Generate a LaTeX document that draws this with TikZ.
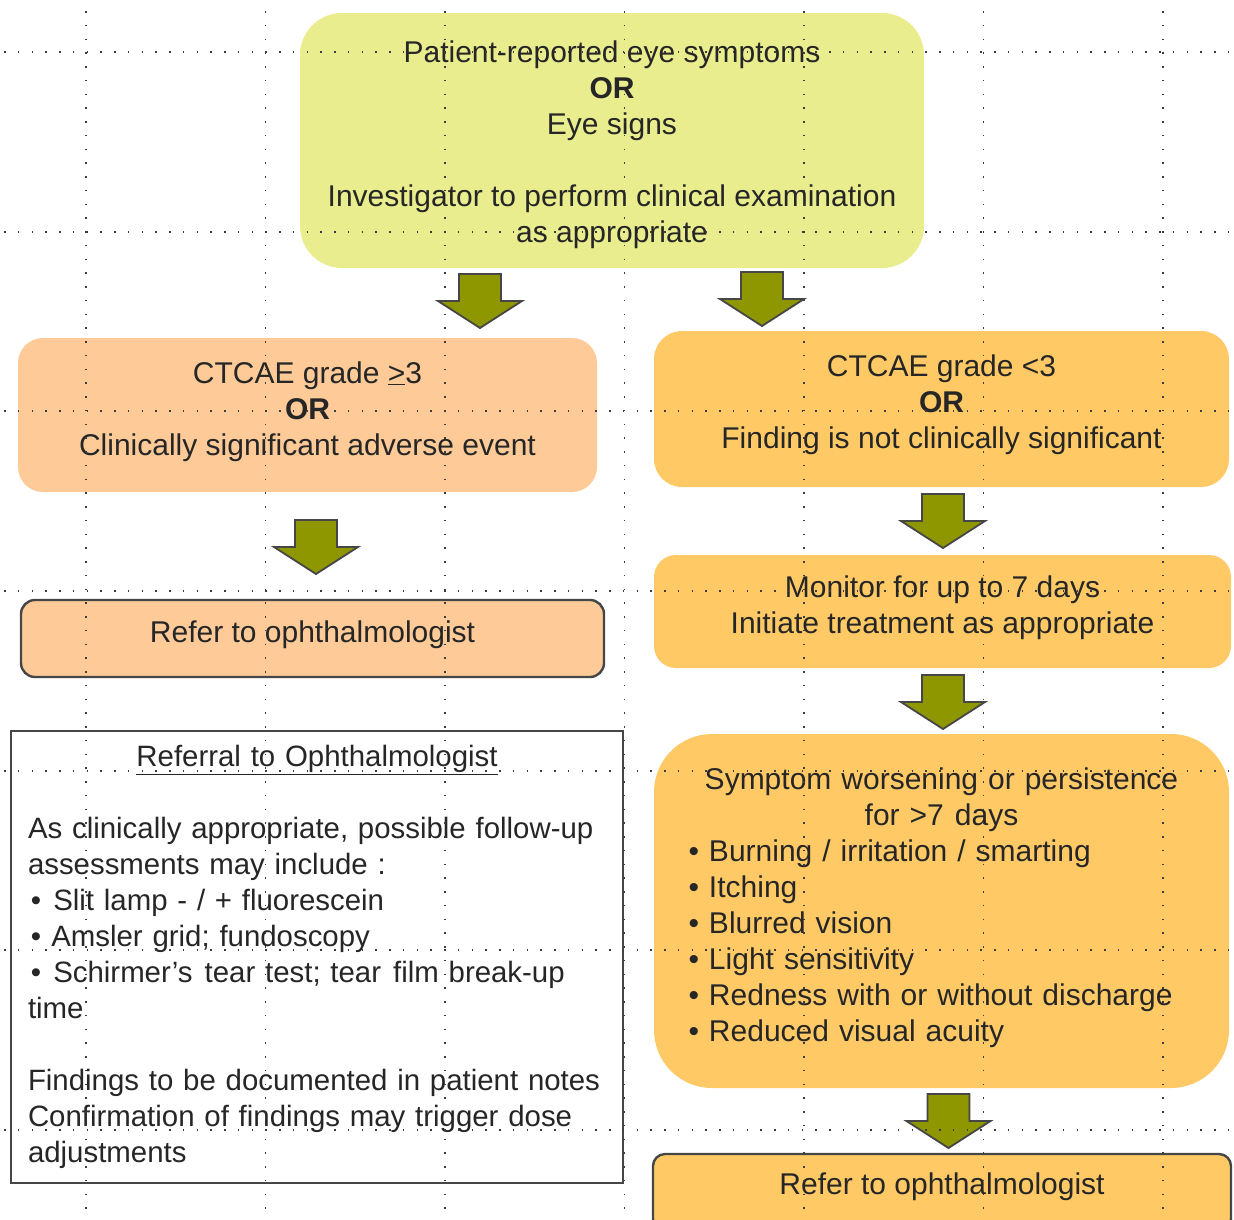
\documentclass[tikz,border=0pt]{standalone}
\usepackage{fontspec}
\setmainfont{Liberation Sans}
\definecolor{topfill}{RGB}{233,237,142}
\definecolor{peach}{RGB}{253,202,152}
\definecolor{amber}{RGB}{255,202,102}
\definecolor{olivefill}{RGB}{142,150,0}
\definecolor{edgegray}{RGB}{70,70,70}
\definecolor{txt}{RGB}{38,38,38}
\definecolor{griddot}{RGB}{60,60,60}
\tikzset{
  box/.style={rounded corners=#1, align=center, text=txt, inner sep=0pt,
    font=\fontsize{30}{36}\selectfont, text depth=0pt},
  outlined/.style={draw=edgegray, line width=2.4pt},
  arrowstyle/.style={fill=olivefill, draw=edgegray, line width=1.8pt, line join=miter},
  hgrid/.style={griddot, line width=1.7pt, dash pattern=on 1.7pt off 12.05pt, dash phase=9.75pt},
  vgrid/.style={griddot, line width=1.7pt, dash pattern=on 1.7pt off 12.05pt, dash phase=2.75pt},
  downarrow/.pic={\draw[arrowstyle] (-21,-27) -- (21,-27) -- (21,0) -- (42,0) -- (0,27) -- (-42,0) -- (-21,0) -- cycle;}
}
\begin{document}
\begin{tikzpicture}[x=1pt,y=-1pt]
\useasboundingbox (0,0) rectangle (1234,1219);
\clip (0,0) rectangle (1234,1219);

% boxes
\node[box=42pt, fill=topfill, minimum width=624pt, minimum height=255pt, text height=203pt] (top) at (612,140.5)
  {Patient-reported eye symptoms\\\textbf{OR}\\Eye signs\\[36pt]Investigator to perform clinical examination\\as appropriate};

\node[box=25pt, fill=peach, minimum width=579pt, minimum height=154pt, text height=80pt] (high) at (307.5,415)
  {CTCAE grade \underline{>}3\\\textbf{OR}\\Clinically significant adverse event};

\node[box=14pt, fill=peach, outlined, minimum width=583pt, minimum height=77pt, text height=7pt] (referleft) at (312.5,638.5)
  {Refer to ophthalmologist};

\node[draw=edgegray, line width=2pt, fill=white, text=txt, inner sep=0pt,
      font=\fontsize{29.4}{36}\selectfont, minimum width=612pt, minimum height=452pt,
      text width=590pt, align=left] (referral) at (317,957)
  {\hspace*{6pt}\makebox[578pt][c]{\underline{Referral to Ophthalmologist}}\\[36pt]%
   \hspace*{6pt}As clinically appropriate, possible follow-up\\
   \hspace*{6pt}assessments may include :\\
   \hspace*{9pt}•\hspace{12pt}Slit lamp - / + fluorescein\\
   \hspace*{9pt}•\hspace{10pt}Amsler grid; fundoscopy\\
   \hspace*{9pt}•\hspace{12pt}Schirmer’s\hspace{12pt}tear test; tear\hspace{12pt}film break-up\\
   \hspace*{6pt}time\\[36pt]%
   \hspace*{6pt}Findings to be documented in patient notes\\
   \hspace*{6pt}Confirmation of findings may trigger dose\\
   \hspace*{6pt}adjustments};

\node[box=28pt, fill=amber, minimum width=575pt, minimum height=156pt, text height=78pt] (low) at (941.5,409)
  {CTCAE grade <3\\\textbf{OR}\\Finding is not clinically significant};

\node[box=22pt, fill=amber, minimum width=577pt, minimum height=113pt, text height=43pt] (monitor) at (942.5,611.5)
  {Monitor for up to 7 days\\Initiate treatment as appropriate};

\node[box=58pt, fill=amber, minimum width=575pt, minimum height=354pt, text height=0pt, text depth=244pt,
      text width=506pt, align=left, inner xsep=34.5pt] (symptom) at (941.5,911)
  {\makebox[506pt][c]{Symptom worsening or persistence}\\
   \makebox[506pt][c]{for >7\hspace{11pt}days}\\
   • Burning / irritation / smarting\\
   • Itching\\
   • Blurred vision\\
   • Light sensitivity\\
   • Redness with or without discharge\\
   • Reduced visual acuity};

\node[box=12pt, fill=amber, outlined, minimum width=578pt, minimum height=77pt, text height=3pt] (referright) at (942,1192.5)
  {Refer to ophthalmologist};

% block arrows between boxes
\coordinate (a1) at (480,301);
\coordinate (a2) at (762,299);
\coordinate (a3) at (316,547);
\coordinate (a4) at (943,521);
\coordinate (a5) at (943,702);
\coordinate (a6) at (948.5,1121);
\foreach \a in {a1,a2,a3,a4,a5,a6} \pic at (\a) {downarrow};

% dotted guide grid
\foreach \gx in {86,265.5,445,624.5,804,983.5,1163}
  \draw[vgrid] (\gx,0) -- (\gx,1219);
\foreach \gy in {52,231.7,411.3,591,770.7,950.3,1130}
  \draw[hgrid] (0,\gy) -- (1234,\gy);
\end{tikzpicture}
\end{document}
